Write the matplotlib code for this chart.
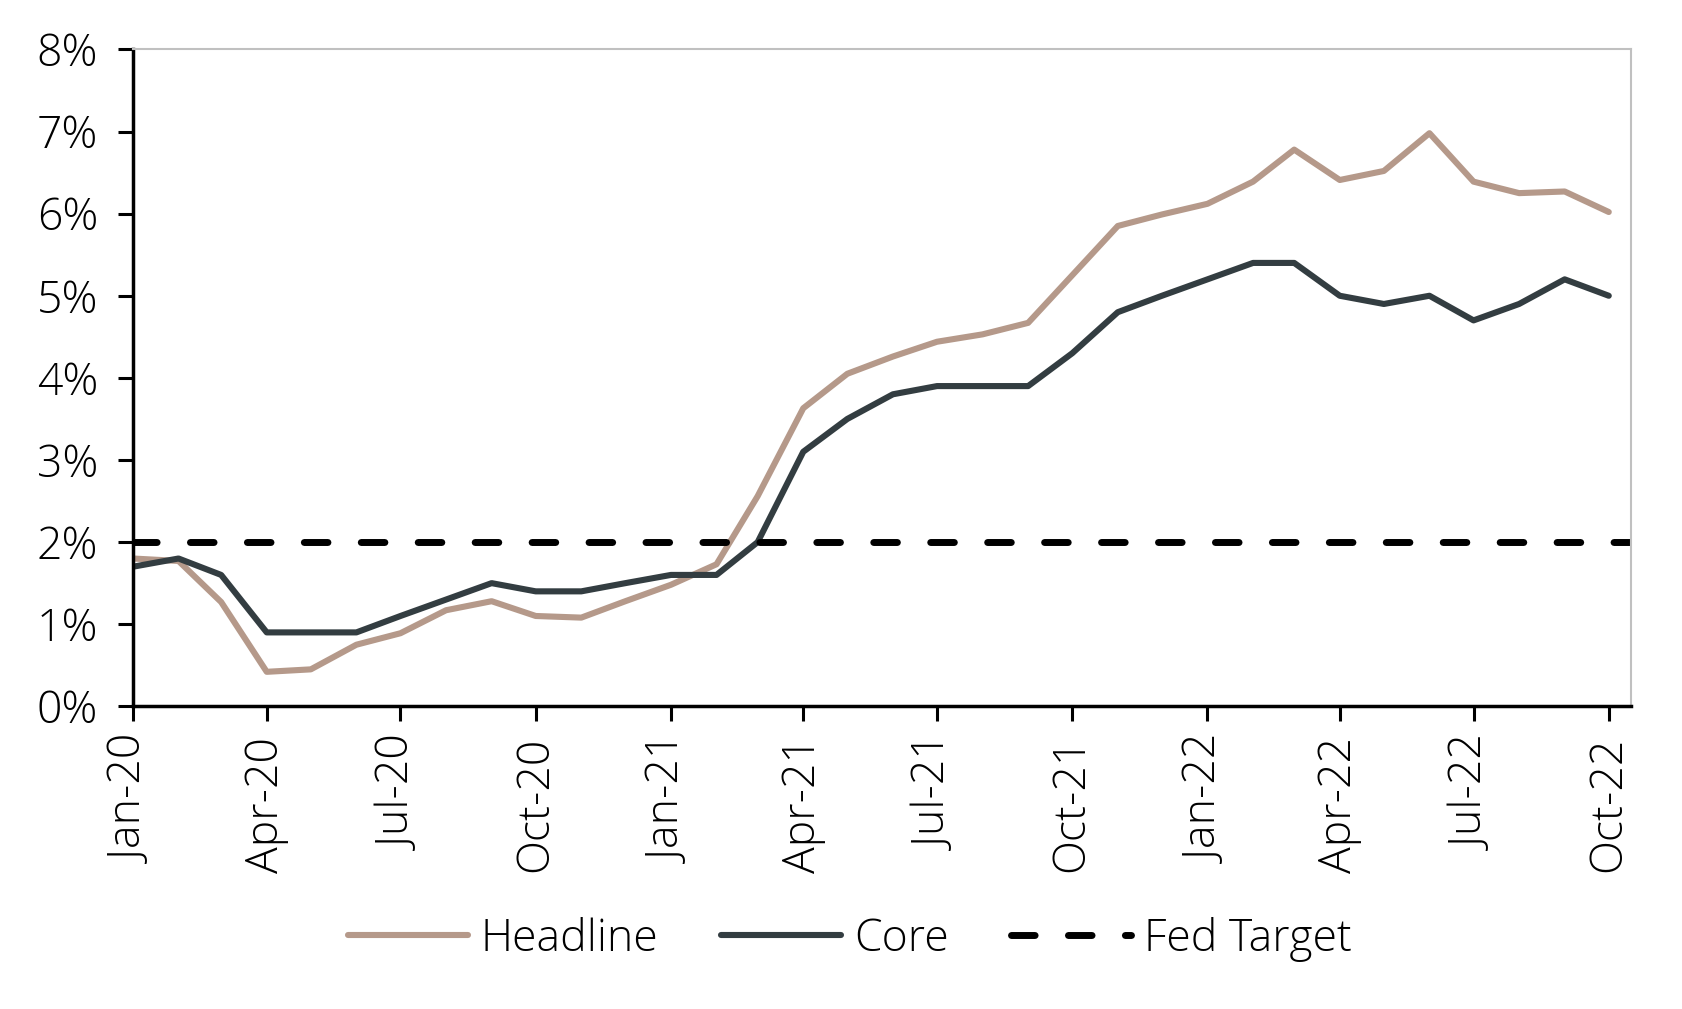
import pandas as pd
import numpy as np
import matplotlib
matplotlib.use('Agg')
import matplotlib.pyplot as plt
import matplotlib.dates as mdates
from matplotlib.ticker import FuncFormatter

# monthly inflation readings, Jan-20 .. Oct-22
months = pd.date_range('2020-01-01', '2022-10-01', freq='MS')
headline = [1.80, 1.77, 1.27, 0.42, 0.45, 0.75, 0.89, 1.17, 1.28, 1.10, 1.08, 1.28,
            1.48, 1.73, 2.56, 3.63, 4.05, 4.26, 4.44, 4.53, 4.67, 5.25, 5.85, 5.99,
            6.12, 6.39, 6.78, 6.41, 6.52, 6.98, 6.39, 6.25, 6.27, 6.02]
core = [1.7, 1.8, 1.6, 0.9, 0.9, 0.9, 1.1, 1.3, 1.5, 1.4, 1.4, 1.5,
        1.6, 1.6, 2.0, 3.1, 3.5, 3.8, 3.9, 3.9, 3.9, 4.3, 4.8, 5.0,
        5.2, 5.4, 5.4, 5.0, 4.9, 5.0, 4.7, 4.9, 5.2, 5.0]
fed_target = 2.0

plt.rcParams['font.family'] = ['Open Sans', 'DejaVu Sans']
plt.rcParams['font.weight'] = 'light'
plt.rcParams['lines.scale_dashes'] = False

fig = plt.figure(figsize=(16.83, 10.09), dpi=100)
ax = fig.add_axes([0.079, 0.300, 0.890, 0.651])

ax.plot(months, headline, color='#b5998a', lw=4.4, label='Headline',
        solid_capstyle='round', solid_joinstyle='round')
ax.plot(months, core, color='#333d41', lw=4.4, label='Core',
        solid_capstyle='round', solid_joinstyle='round')
ax.axhline(fed_target, color='black', lw=5, dashes=(17, 24), dash_capstyle='round', label='Fed Target')

ax.set_ylim(0, 8)
ax.set_yticks(np.arange(0, 9, 1))
ax.yaxis.set_major_formatter(FuncFormatter(lambda v, p: f'{v:.0f}%'))
ax.set_xlim(months[0], months[-1] + pd.Timedelta(days=15))
ax.set_xticks(months[::3])
ax.xaxis.set_major_formatter(mdates.DateFormatter('%b-%y'))
for lab in ax.get_xticklabels():
    lab.set_rotation(90)

ax.tick_params(axis='both', labelsize=32, length=11, width=2.2, color='black')
ax.tick_params(axis='y', pad=14)
ax.tick_params(axis='x', pad=11)
for s in ['left', 'bottom']:
    ax.spines[s].set_linewidth(2.5)
    ax.spines[s].set_color('black')
for s in ['top', 'right']:
    ax.spines[s].set_linewidth(1.5)
    ax.spines[s].set_color('#c0c0c0')

leg = fig.legend(loc='center', bbox_to_anchor=(0.505, 0.069), ncol=3, frameon=False,
                 fontsize=32, handlelength=2.7, columnspacing=1.4, handletextpad=0.3)
for h in leg.get_lines():
    h.set_solid_capstyle('round')

fig.savefig('out.png', dpi=100)
